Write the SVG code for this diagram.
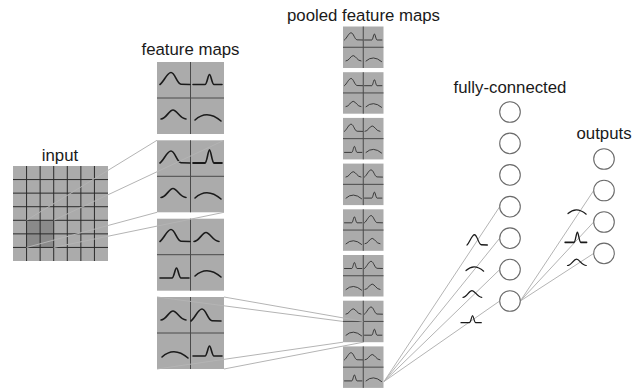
<svg xmlns="http://www.w3.org/2000/svg" xmlns:xlink="http://www.w3.org/1999/xlink" width="638" height="391" viewBox="0 0 638 391">
<style>
  .lbl { font-family: "Liberation Sans", Arial, sans-serif; font-size: 16.8px; fill: #1a1a1a; text-anchor: middle; }
  .map { fill: #ababab; }
  .div { stroke: #4a4a4a; stroke-width: 1; fill: none; }
  .grid { stroke: #2a2a2a; stroke-width: 1; fill: none; }
  .gl { fill: none; stroke: #1a1a1a; stroke-width: 1.6; stroke-linecap: round; stroke-linejoin: round; }
  .gp { fill: none; stroke: #1a1a1a; stroke-width: 1.7; stroke-linecap: round; stroke-linejoin: round; }
  .gs { fill: none; stroke: #1a1a1a; stroke-width: 1.3; stroke-linecap: round; stroke-linejoin: round; }
  .neuron { fill: #ffffff; stroke: #6a6a6a; stroke-width: 1.1; }
  .conn { stroke: #b4b4b4; stroke-width: 1; fill: none; }
</style>
<defs>
  <path id="wide" d="M0,0 C4,-3 7,-12 11,-12 C15,-12 17,-0.5 21,-0.3 L30,0"/>
  <path id="narrow" d="M0,0 L12,0 C14,0 15,-10 16.5,-10 C18,-10 19,0 21,0 L29,0"/>
  <path id="bump" d="M0,0 C5,0 8,-9 12,-9 C16,-9 19,0 25,0"/>
  <path id="arch" d="M0,0 Q12,-11 26,1"/>
</defs>

<g id="labels">
  <text class="lbl" x="60" y="160.5">input</text>
  <text class="lbl" x="190.5" y="55">feature maps</text>
  <text class="lbl" x="363.5" y="21">pooled feature maps</text>
  <text class="lbl" x="510" y="93">fully-connected</text>
  <text class="lbl" x="604" y="139">outputs</text>
</g>

<g id="input">
  <rect class="map" x="13" y="166" width="95" height="95"/>
  <rect x="26.57" y="220.29" width="27.14" height="27.14" fill="#8a8a8a"/>
  <path class="grid" d="M26.57,166V261 M40.14,166V261 M53.71,166V261 M67.29,166V261 M80.86,166V261 M94.43,166V261 M13,179.57H108 M13,193.14H108 M13,206.71H108 M13,220.29H108 M13,233.86H108 M13,247.43H108"/>
</g>

<g id="fmap1">
  <rect class="map" x="157" y="62" width="67" height="72"/>
  <path class="div" d="M190.5,62V134 M157,98H224"/>
  <use href="#wide" class="gl" transform="translate(160,84.5)"/>
  <use href="#narrow" class="gl" transform="translate(193,84.5)"/>
  <use href="#bump" class="gl" transform="translate(161,119)"/>
  <use href="#arch" class="gl" transform="translate(195,120)"/>
</g>
<g id="fmap2">
  <rect class="map" x="157" y="140.3" width="67" height="72"/>
  <path class="div" d="M190.5,140.3V212.3 M157,176.3H224"/>
  <use href="#wide" class="gl" transform="translate(160,163)"/>
  <use href="#narrow" class="gl" transform="translate(193,163) scale(1,1.3)"/>
  <use href="#bump" class="gl" transform="translate(161,197.5)"/>
  <use href="#arch" class="gl" transform="translate(195,198)"/>
</g>
<g id="fmap3">
  <rect class="map" x="157" y="218.7" width="67" height="72"/>
  <path class="div" d="M190.5,218.7V290.7 M157,254.7H224"/>
  <use href="#wide" class="gl" transform="translate(160,241.5)"/>
  <use href="#bump" class="gl" transform="translate(194,241.5)"/>
  <use href="#narrow" class="gl" transform="translate(160,278)"/>
  <use href="#arch" class="gl" transform="translate(195,276)"/>
</g>
<g id="fmap4">
  <rect class="map" x="157" y="297" width="67" height="72"/>
  <path class="div" d="M190.5,297V369 M157,333H224"/>
  <use href="#bump" class="gl" transform="translate(161,320)"/>
  <use href="#wide" class="gl" transform="translate(191,321)"/>
  <use href="#arch" class="gl" transform="translate(162,357)"/>
  <use href="#narrow" class="gl" transform="translate(193,356)"/>
</g>

<g id="pool1">
  <rect class="map" x="343" y="26.5" width="40.5" height="41.5"/>
  <path class="div" d="M363.25,26.5V68 M343,47.25H383.5"/>
  <use href="#wide" class="gs" transform="translate(344.5,40) scale(0.6)"/>
  <use href="#narrow" class="gs" transform="translate(364.5,40) scale(0.6)"/>
  <use href="#bump" class="gs" transform="translate(346,61) scale(0.6)"/>
  <use href="#arch" class="gs" transform="translate(366,61) scale(0.6)"/>
</g>
<g id="pool2">
  <rect class="map" x="343" y="72.2" width="40.5" height="41.5"/>
  <path class="div" d="M363.25,72.2V113.7 M343,92.95H383.5"/>
  <use href="#wide" class="gs" transform="translate(344.5,85.7) scale(0.6)"/>
  <use href="#narrow" class="gs" transform="translate(364.5,85.7) scale(0.6)"/>
  <use href="#bump" class="gs" transform="translate(346,106.7) scale(0.6)"/>
  <use href="#arch" class="gs" transform="translate(366,106.7) scale(0.6)"/>
</g>
<g id="pool3">
  <rect class="map" x="343" y="117.9" width="40.5" height="41.5"/>
  <path class="div" d="M363.25,117.9V159.4 M343,138.65H383.5"/>
  <use href="#wide" class="gs" transform="translate(344.5,131.4) scale(0.6)"/>
  <use href="#bump" class="gs" transform="translate(365,131.4) scale(0.6)"/>
  <use href="#narrow" class="gs" transform="translate(344.5,152.4) scale(0.6)"/>
  <use href="#arch" class="gs" transform="translate(366,152.4) scale(0.6)"/>
</g>
<g id="pool4">
  <rect class="map" x="343" y="163.6" width="40.5" height="41.5"/>
  <path class="div" d="M363.25,163.6V205.1 M343,184.35H383.5"/>
  <use href="#bump" class="gs" transform="translate(346,177.1) scale(0.6)"/>
  <use href="#wide" class="gs" transform="translate(364.5,177.1) scale(0.6)"/>
  <use href="#arch" class="gs" transform="translate(346,198.1) scale(0.6)"/>
  <use href="#narrow" class="gs" transform="translate(364.5,198.1) scale(0.6)"/>
</g>
<g id="pool5">
  <rect class="map" x="343" y="209.3" width="40.5" height="41.5"/>
  <path class="div" d="M363.25,209.3V250.8 M343,230.05H383.5"/>
  <use href="#narrow" class="gs" transform="translate(344.5,222.8) scale(0.6)"/>
  <use href="#wide" class="gs" transform="translate(364.5,222.8) scale(0.6)"/>
  <use href="#arch" class="gs" transform="translate(346,243.8) scale(0.6)"/>
  <use href="#bump" class="gs" transform="translate(365,243.8) scale(0.6)"/>
</g>
<g id="pool6">
  <rect class="map" x="343" y="255" width="40.5" height="41.5"/>
  <path class="div" d="M363.25,255V296.5 M343,275.75H383.5"/>
  <use href="#narrow" class="gs" transform="translate(344.5,268.5) scale(0.6)"/>
  <use href="#wide" class="gs" transform="translate(364.5,268.5) scale(0.6)"/>
  <use href="#arch" class="gs" transform="translate(346,289.5) scale(0.6)"/>
  <use href="#bump" class="gs" transform="translate(365,289.5) scale(0.6)"/>
</g>
<g id="pool7">
  <rect class="map" x="343" y="300.7" width="40.5" height="41.5"/>
  <path class="div" d="M363.25,300.7V342.2 M343,321.45H383.5"/>
  <use href="#bump" class="gs" transform="translate(346,314.2) scale(0.6)"/>
  <use href="#wide" class="gs" transform="translate(364.5,314.2) scale(0.6)"/>
  <use href="#arch" class="gs" transform="translate(346,335.2) scale(0.6)"/>
  <use href="#narrow" class="gs" transform="translate(364.5,335.2) scale(0.6)"/>
</g>
<g id="pool8">
  <rect class="map" x="343" y="346.4" width="40.5" height="41.5"/>
  <path class="div" d="M363.25,346.4V387.9 M343,367.15H383.5"/>
  <use href="#wide" class="gs" transform="translate(344.5,359.9) scale(0.6)"/>
  <use href="#bump" class="gs" transform="translate(365,359.9) scale(0.6)"/>
  <use href="#narrow" class="gs" transform="translate(344.5,380.9) scale(0.6)"/>
  <use href="#arch" class="gs" transform="translate(366,380.9) scale(0.6)"/>
</g>

<g id="connectors">
  <path class="conn" d="M26.57,220.29L157,140.3 M53.71,220.29L224,140.3 M26.57,247.43L157,212.3 M53.71,247.43L224,212.3"/>
  <path class="conn" d="M157,297L343,321.45 M224,297L363.25,321.45 M157,369L343,342.2 M224,369L363.25,342.2"/>
  <path class="conn" d="M384,381.5L499.7,206.7 M384,381.5L499.7,238.2 M384,381.5L499.7,269.6 M384,381.5L499.7,301"/>
  <path class="conn" d="M520.3,301L593.7,190.5 M520.3,301L593.7,222 M520.3,301L593.7,253.4"/>
</g>

<g id="fc1"><circle class="neuron" cx="510" cy="112" r="10.3"/></g>
<g id="fc2"><circle class="neuron" cx="510" cy="143.4" r="10.3"/></g>
<g id="fc3"><circle class="neuron" cx="510" cy="174.9" r="10.3"/></g>
<g id="fc4"><circle class="neuron" cx="510" cy="206.7" r="10.3"/></g>
<g id="fc5"><circle class="neuron" cx="510" cy="238.2" r="10.3"/></g>
<g id="fc6"><circle class="neuron" cx="510" cy="269.6" r="10.3"/></g>
<g id="fc7"><circle class="neuron" cx="510" cy="301" r="10.3"/></g>

<g id="out1"><circle class="neuron" cx="604" cy="159" r="10.3"/></g>
<g id="out2"><circle class="neuron" cx="604" cy="190.5" r="10.3"/></g>
<g id="out3"><circle class="neuron" cx="604" cy="222" r="10.3"/></g>
<g id="out4"><circle class="neuron" cx="604" cy="253.4" r="10.3"/></g>

<g id="weights">
  <use href="#wide" class="gp" transform="translate(467,245) scale(0.68,0.85)"/>
  <use href="#arch" class="gp" transform="translate(466,270.5) scale(0.68,0.7)"/>
  <use href="#bump" class="gp" transform="translate(463,297.3) scale(0.75,0.75)"/>
  <use href="#narrow" class="gp" transform="translate(461,322.7) scale(0.7,0.7)"/>
  <use href="#arch" class="gp" transform="translate(568,213.5) scale(0.7,0.7)"/>
  <use href="#narrow" class="gp" transform="translate(565,242.3) scale(0.75,1)"/>
  <use href="#bump" class="gp" transform="translate(567.5,265.5) scale(0.75,0.7)"/>
</g>
</svg>
